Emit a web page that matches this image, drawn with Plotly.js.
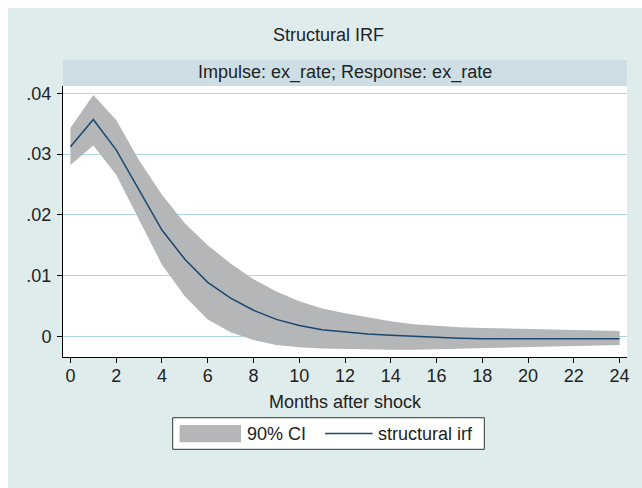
<!DOCTYPE html>
<html>
<head>
<meta charset="utf-8">
<script src="https://cdn.plot.ly/plotly-3.0.1.min.js"></script>
<style>
  html, body { margin: 0; padding: 0; background: #ffffff; }
  #chart { position: absolute; left: 8px; top: 8px; width: 634px; height: 480px; }
</style>
</head>
<body>
<div id="chart"></div>
<script>
// ---- data ----
var months = [0,1,2,3,4,5,6,7,8,9,10,11,12,13,14,15,16,17,18,19,20,21,22,23,24];
var irf = [0.0312,0.0357,0.0307,0.0241,0.0175,0.0127,0.0089,0.0063,0.0043,0.0028,0.0018,0.0011,0.0007,0.0004,0.0002,0.0000,-0.0002,-0.0003,-0.0004,-0.0004,-0.0004,-0.0004,-0.0004,-0.0004,-0.0004];
var ciUpper = [0.0343,0.0397,0.0356,0.0290,0.0233,0.0186,0.0150,0.0120,0.0094,0.0074,0.0058,0.0046,0.0038,0.0031,0.0025,0.0020,0.0017,0.0015,0.0014,0.0013,0.0012,0.0011,0.0011,0.0010,0.0009];
var ciLower = [0.0282,0.0314,0.0266,0.0193,0.0118,0.0066,0.0028,0.0007,-0.0006,-0.0014,-0.0018,-0.0020,-0.0021,-0.0022,-0.0022,-0.0022,-0.0021,-0.0021,-0.0020,-0.0019,-0.0018,-0.0017,-0.0016,-0.0015,-0.0014];
var xTickVals = [0,2,4,6,8,10,12,14,16,18,20,22,24];
var yTickVals = [0,0.01,0.02,0.03,0.04];
var yTickText = ['0','.01','.02','.03','.04'];
var titleText = 'Structural IRF';
var stripText = 'Impulse: ex_rate; Response: ex_rate';
var xTitleText = 'Months after shock';
var legendCI = '90% CI';
var legendLine = 'structural irf';

// ---- styles ----
var FONT = 'Liberation Sans, Arial, Helvetica, sans-serif';
var TXT = '#222222';
var BG = '#dfecec';
var STRIP = '#cddfe4';
var GRID = '#aed6df';
var BAND = '#b5b6b8';
var LINE = '#1a476f';

var traces = [
  { x: months, y: ciLower, type: 'scatter', mode: 'lines', line: {width: 0, color: BAND},
    hoverinfo: 'skip', showlegend: false },
  { x: months, y: ciUpper, type: 'scatter', mode: 'lines', line: {width: 0, color: BAND},
    fill: 'tonexty', fillcolor: BAND, name: legendCI, showlegend: false },
  { x: months, y: irf, type: 'scatter', mode: 'lines', line: {width: 1.5, color: LINE},
    name: legendLine, showlegend: false }
];

var layout = {
  width: 634, height: 480,
  margin: {l: 55, r: 15, t: 78, b: 131, pad: 0},
  paper_bgcolor: BG,
  plot_bgcolor: '#ffffff',
  font: {family: FONT, size: 18, color: TXT},
  showlegend: false,
  xaxis: {
    range: [-0.324, 24.324], tickvals: xTickVals, ticktext: xTickVals.map(String),
    showgrid: false, zeroline: false, showline: true, linecolor: '#000', linewidth: 1,
    ticks: 'outside', ticklen: 5, tickcolor: '#000', tickwidth: 1,
    ticklabelstandoff: -3,
    tickfont: {family: FONT, size: 18, color: TXT}
  },
  yaxis: {
    range: [-0.00339, 0.0412], tickvals: yTickVals, ticktext: yTickText,
    showgrid: true, gridcolor: GRID, gridwidth: 1, zeroline: false,
    showline: true, linecolor: '#000', linewidth: 1,
    ticks: 'outside', ticklen: 5, tickcolor: '#000', tickwidth: 1,
    ticklabelstandoff: 2,
    tickfont: {family: FONT, size: 18, color: TXT}
  },
  shapes: [
    {type: 'rect', xref: 'paper', yref: 'paper', x0: 0, x1: 1, y0: 1.0, y1: 1.0959,
     fillcolor: STRIP, line: {width: 0}},
    {type: 'rect', xref: 'paper', yref: 'paper', x0: 0.1945, x1: 0.747, y0: -0.3406, y1: -0.224,
     fillcolor: '#ffffff', line: {width: 1, color: '#333'}},
    {type: 'rect', xref: 'paper', yref: 'paper', x0: 0.2067, x1: 0.3156, y0: -0.3148, y1: -0.2509,
     fillcolor: BAND, line: {width: 0}},
    {type: 'line', xref: 'paper', yref: 'paper', x0: 0.4645, x1: 0.549, y0: -0.2823, y1: -0.2823,
     line: {width: 1.5, color: LINE}}
  ],
  annotations: [
    {text: titleText, xref: 'paper', yref: 'paper', x: 0.4707, y: 1.188,
     xanchor: 'center', yanchor: 'middle', showarrow: false, font: {size: 18, color: TXT}},
    {text: stripText, xref: 'paper', yref: 'paper', x: 0.5, y: 1.048,
     xanchor: 'center', yanchor: 'middle', showarrow: false, font: {size: 18, color: TXT}},
    {text: xTitleText, xref: 'paper', yref: 'paper', x: 0.5, y: -0.165,
     xanchor: 'center', yanchor: 'middle', showarrow: false, font: {size: 18, color: TXT}},
    {text: legendCI, xref: 'paper', yref: 'paper', x: 0.3225, y: -0.2823,
     xanchor: 'left', yanchor: 'middle', showarrow: false, font: {size: 18, color: TXT}},
    {text: legendLine, xref: 'paper', yref: 'paper', x: 0.555, y: -0.2823,
     xanchor: 'left', yanchor: 'middle', showarrow: false, font: {size: 18, color: TXT}}
  ]
};

Plotly.newPlot('chart', traces, layout, {staticPlot: true, displayModeBar: false});
</script>
</body>
</html>
